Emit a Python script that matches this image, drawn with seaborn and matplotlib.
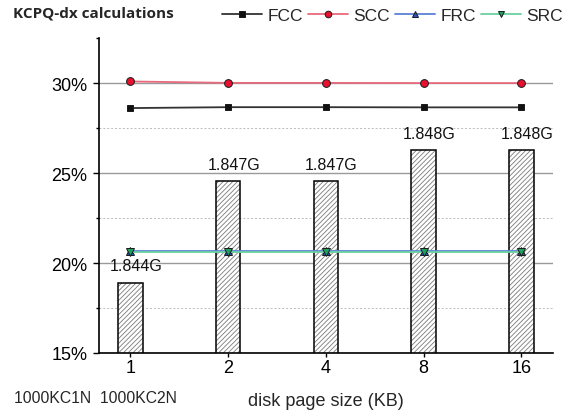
import numpy as np
import matplotlib
matplotlib.use("Agg")
from matplotlib import pyplot as plt
from matplotlib.ticker import MultipleLocator, FixedLocator, PercentFormatter
import seaborn as sns

# values (percent)
page_sizes = ["1", "2", "4", "8", "16"]
bar_pct = [18.92, 24.56, 24.56, 26.27, 26.27]
bar_labels = ["1.844G", "1.847G", "1.847G", "1.848G", "1.848G"]
fcc = [28.62, 28.67, 28.67, 28.66, 28.66]
scc = [30.10, 30.02, 30.02, 30.01, 30.01]
frc = [20.66, 20.66, 20.66, 20.66, 20.66]
src = [20.63, 20.63, 20.63, 20.63, 20.63]

sns.set_style("ticks")
plt.rcParams['font.family'] = ['Liberation Sans', 'DejaVu Sans']
plt.rcParams['hatch.linewidth'] = 0.6
plt.rcParams['hatch.color'] = '#7a7a7a'

fig = plt.figure(figsize=(5.8, 4.14), dpi=100)
ax = fig.add_axes([99 / 580, 1 - 354 / 414, 453.7 / 580, 314.7 / 414])

# hatched bars: gray hatch first, black outline on top
sns.barplot(x=page_sizes, y=bar_pct, width=0.25, color='white',
            edgecolor='#7a7a7a', hatch='///////', linewidth=0, ax=ax)
sns.barplot(x=page_sizes, y=bar_pct, width=0.25, fill=False,
            color='black', linewidth=1.1, ax=ax)

series = [
    ("FCC", fcc, '#333333', '#111111', 's', 4.6),
    ("SCC", scc, '#e8697c', '#e8102e', 'o', 5.6),
    ("FRC", frc, '#5a80d8', '#2a55c8', '^', 5.4),
    ("SRC", src, '#6cd0a0', '#1fa060', 'v', 5.4),
]
for name, vals, lc, mc, mk, ms in series:
    sns.pointplot(x=page_sizes, y=vals, color=lc, markers=mk,
                  errorbar=None, label=name, ax=ax)
    ln = ax.lines[-1]
    ln.set_linewidth(1.3)
    ln.set_color(lc)
    ln.set_markerfacecolor(mc)
    ln.set_markeredgecolor('#1a1a1a')
    ln.set_markeredgewidth(0.7)
    ln.set_markersize(ms)
    ln.set_zorder(4)

if ax.get_legend() is not None:
    ax.get_legend().remove()

# value labels above bars
for i, (v, lab) in enumerate(zip(bar_pct, bar_labels)):
    ax.annotate(lab, (i, v), xytext=(4, 6.5), textcoords='offset points',
                ha='center', va='bottom', fontsize=11.5, color='#111111')

ax.set_xlim(-0.32, 4.32)
ax.set_ylim(15, 32.5)
ax.yaxis.set_major_locator(MultipleLocator(5))
ax.yaxis.set_minor_locator(FixedLocator([17.5, 22.5, 27.5, 32.5]))
ax.yaxis.set_major_formatter(PercentFormatter(decimals=0))
ax.set_axisbelow(True)
ax.yaxis.grid(True, which='major', color='#9a9a9a', linewidth=1.0)
ax.yaxis.grid(True, which='minor', color='#bbbbbb', linewidth=0.7, linestyle=(0, (2, 2)))
ax.yaxis.get_minor_ticks()[-1].gridline.set_visible(False)
ax.xaxis.grid(False)

sns.despine(ax=ax)
for s in ('left', 'bottom'):
    ax.spines[s].set_color('black')
    ax.spines[s].set_linewidth(1.2)
ax.tick_params(axis='y', which='major', length=4.3, width=1, pad=4, labelsize=13, colors='black')
ax.tick_params(axis='y', which='minor', length=2.5, width=1, colors='black')
ax.tick_params(axis='x', length=3, width=1, pad=1.5, labelsize=13, colors='black')
ax.set_xlabel("disk page size (KB)", fontsize=13, labelpad=11)
ax.set_ylabel("")

handles, labels = ax.get_legend_handles_labels()
fig.legend(handles, labels, loc='upper right', bbox_to_anchor=(0.985, 1.0),
           ncol=4, frameon=False, fontsize=12.5, handlelength=2.3,
           handletextpad=0.3, columnspacing=0.3, borderaxespad=0.1,
           markerscale=0.85)

fig.text(13 / 580, 1 - 13 / 414, "KCPQ-dx calculations", fontweight='bold',
         family=['Open Sans', 'DejaVu Sans'], fontsize=11, va='center')
fig.text(14 / 580, 1 - 399 / 414, "1000KC1N  1000KC2N", fontsize=11.3, va='center')

fig.savefig("out.png", dpi=100)
